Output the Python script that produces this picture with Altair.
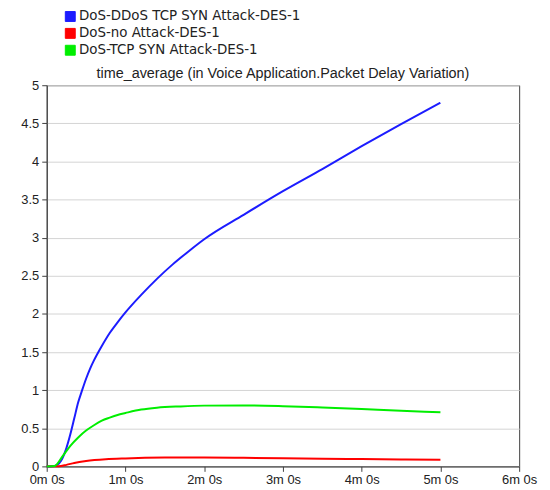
import altair as alt
import pandas as pd

series_names = ["DoS-DDoS TCP SYN Attack-DES-1", "DoS-no Attack-DES-1", "DoS-TCP SYN Attack-DES-1"]
series_colors = ["#1c1cff", "#ff0000", "#00ee00"]
title_text = "time_average (in Voice Application.Packet Delay Variation)"

blue_t = [0, 0.1, 0.18, 0.25, 0.3, 0.35, 0.4, 0.45, 0.5, 0.55, 0.6, 0.7, 0.8, 0.9, 1.0, 1.2, 1.4, 1.6, 1.8, 2.0, 2.5, 3.0, 3.5, 4.0, 4.5, 5.0]
blue_v = [0, 0.005, 0.07, 0.24, 0.42, 0.63, 0.84, 1.0, 1.15, 1.28, 1.39, 1.58, 1.75, 1.89, 2.02, 2.25, 2.46, 2.65, 2.82, 2.98, 3.3, 3.61, 3.9, 4.2, 4.49, 4.77]

red_t = [0, 0.15, 0.25, 0.35, 0.5, 0.75, 1.0, 1.5, 2.0, 2.5, 3.0, 3.5, 4.0, 4.5, 5.0]
red_v = [0, 0.002, 0.02, 0.045, 0.07, 0.093, 0.104, 0.115, 0.117, 0.113, 0.107, 0.101, 0.096, 0.091, 0.087]

green_t = [0, 0.1, 0.2, 0.3, 0.4, 0.5, 0.6, 0.7, 0.8, 0.9, 1.0, 1.2, 1.4, 1.7, 2.0, 2.5, 3.0, 3.5, 4.0, 4.5, 5.0]
green_v = [0, 0.005, 0.13, 0.27, 0.38, 0.47, 0.54, 0.6, 0.64, 0.675, 0.7, 0.745, 0.77, 0.787, 0.797, 0.8, 0.79, 0.772, 0.752, 0.73, 0.71]

rows = []
for name, ts, vs in zip(series_names, [blue_t, red_t, green_t], [blue_v, red_v, green_v]):
    for t, v in zip(ts, vs):
        rows.append({"series": name, "t": t, "v": v})
df = pd.DataFrame(rows)

FONT = "Liberation Sans"
LEGEND_FONT = "DejaVu Sans"

x_enc = alt.X("t:Q", scale=alt.Scale(domain=[0, 6], nice=False),
              axis=alt.Axis(values=[0, 1, 2, 3, 4, 5, 6], labelExpr="datum.value + 'm 0s'",
                            title=None, grid=False, labelFontSize=13, labelFont=FONT,
                            labelColor="#222222", tickColor="#404040", domainColor="#404040",
                            tickSize=5, labelPadding=2, labelFlush=False))
y_enc = alt.Y("v:Q", scale=alt.Scale(domain=[0, 5], nice=False),
              axis=alt.Axis(values=[0, 0.5, 1, 1.5, 2, 2.5, 3, 3.5, 4, 4.5, 5], format="~g",
                            title=None, grid=True, gridColor="#d4d4d4", labelFontSize=13,
                            labelFont=FONT, labelColor="#222222", tickColor="#404040",
                            domainColor="#404040", tickSize=5, labelPadding=3))
color_scale = alt.Scale(domain=series_names, range=series_colors)

base = alt.Chart(df)

legend_layer = base.transform_filter("false").mark_square(
    filled=True, size=100, stroke="black", strokeWidth=1, opacity=1
).encode(
    x=x_enc, y=y_enc,
    color=alt.Color("series:N", scale=color_scale, sort=series_names,
                    legend=alt.Legend(title=None, orient="none", legendX=17, legendY=-76,
                                      symbolType="square", symbolSize=100, symbolOpacity=1,
                                      symbolStrokeColor="black", symbolStrokeWidth=1,
                                      labelFontSize=13.5, labelFont=LEGEND_FONT,
                                      labelColor="#222222",
                                      labelLimit=0, rowPadding=2, labelOffset=2)),
)

lines = base.mark_line(strokeWidth=2, interpolate="monotone").encode(
    x=x_enc, y=y_enc,
    color=alt.Color("series:N", scale=color_scale, sort=series_names, legend=None),
)

title_layer = alt.Chart(pd.DataFrame({"label": [title_text]})).mark_text(
    font=FONT, fontSize=14.5, color="#222222", baseline="bottom", align="center"
).encode(
    text="label:N", x=alt.value(238), y=alt.value(-4),
)

chart = alt.layer(legend_layer, lines, title_layer).properties(
    width=476, height=384,
    padding={"left": 12, "top": 0, "right": 5, "bottom": 5},
).configure_view(stroke="#404040", strokeWidth=1)

chart.save("out.html", embed_options={"renderer": "svg", "actions": False})
